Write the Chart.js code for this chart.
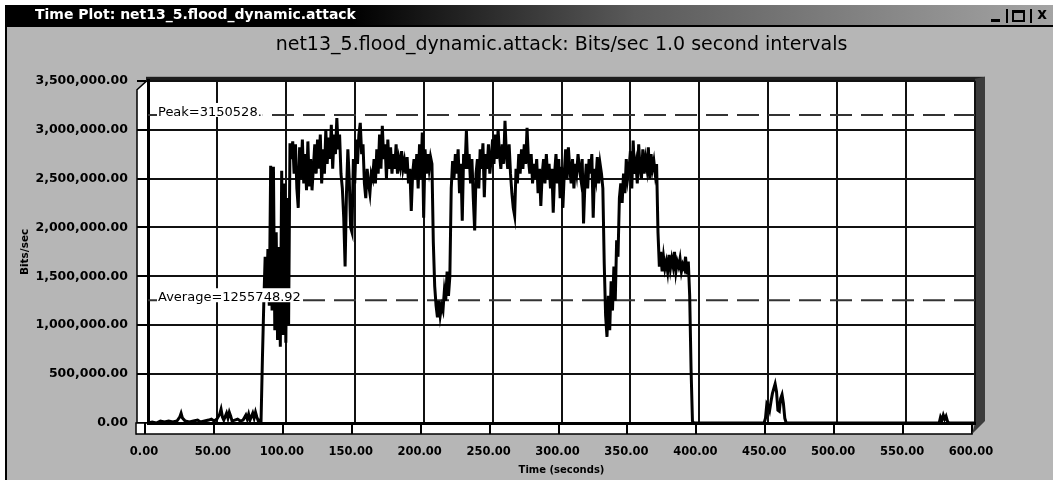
<!DOCTYPE html>
<html>
<head>
<meta charset="utf-8">
<script src="https://cdn.jsdelivr.net/npm/chart.js@4.4.1/dist/chart.umd.min.js"></script>
<style>
  html, body { margin: 0; padding: 0; background: #fff; }
</style>
</head>
<body>
<canvas id="plot" width="1053" height="480"></canvas>
<script>
const WINDOW_TITLE = 'Time Plot: net13_5.flood_dynamic.attack';
const CHART_TITLE = 'net13_5.flood_dynamic.attack: Bits/sec 1.0 second intervals';

// quiet period before the flood (seconds / Mbit per second)
const preSec  = [0, 3, 6, 9, 12, 15, 18, 21, 23, 24, 25, 27, 30, 33, 36, 38, 41, 44, 46, 48, 50,
                 52, 53, 54, 55, 57, 58, 59, 60, 61, 63, 65, 67, 69, 71, 72, 73, 74, 76, 77, 78, 79, 80, 81, 82];
const preMbps = [0.00, 0.01, 0.00, 0.02, 0.01, 0.02, 0.01, 0.02, 0.06, 0.10, 0.05, 0.02, 0.01, 0.02, 0.03, 0.01, 0.02, 0.03, 0.04, 0.02, 0.04,
                 0.09, 0.14, 0.06, 0.03, 0.10, 0.05, 0.11, 0.07, 0.02, 0.03, 0.04, 0.02, 0.03, 0.08, 0.04, 0.09, 0.03, 0.10, 0.05, 0.11, 0.06, 0.02, 0.03, 0.01];

// the attack, one sample per second starting at attackStartSec
const attackStartSec = 83;
const attackMbps = [
  0.65, 1.22, 1.70, 1.25, 1.78, 1.20, 2.63, 1.15, 2.62, 0.95,   // 83
  1.95, 0.85, 1.80, 0.78, 2.58, 0.90, 2.45, 0.82, 2.30, 1.00,   // 93
  2.86, 2.70, 2.88, 2.55, 2.85, 2.40, 2.20, 2.82, 2.50, 2.90,   // 103
  2.45, 2.75, 2.38, 2.88, 2.42, 2.70, 2.38, 2.62, 2.85, 2.55,   // 113
  2.90, 2.60, 2.95, 2.45, 2.80, 2.55, 3.00, 2.65, 2.92, 2.70,   // 123
  3.05, 2.60, 2.95, 2.75, 3.12, 2.80, 2.95, 2.55, 2.40, 2.10,   // 133
  1.60, 2.35, 2.80, 2.50, 2.00, 1.95, 2.70, 2.45, 2.90, 2.65,   // 143
  2.95, 3.07, 2.75, 2.85, 2.45, 2.30, 2.60, 2.45, 2.35, 2.55,   // 153
  2.50, 2.70, 2.45, 2.80, 2.55, 2.95, 2.60, 3.04, 2.70, 2.85,   // 163
  2.50, 2.90, 2.60, 2.82, 2.55, 2.75, 2.60, 2.85, 2.55, 2.70,   // 173
  2.62, 2.78, 2.60, 2.68, 2.55, 2.72, 2.45, 2.60, 2.17, 2.55,   // 183
  2.70, 2.50, 2.75, 2.40, 2.85, 2.50, 2.97, 2.10, 2.80, 2.55,   // 193
  2.75, 2.60, 2.72, 2.65, 1.85, 1.40, 1.20, 1.08, 1.25, 1.10,   // 203
  1.20, 1.15, 1.35, 1.25, 1.55, 1.30, 1.50, 2.40, 2.68, 2.50,   // 213
  2.75, 2.55, 2.80, 2.35, 2.65, 2.07, 2.75, 2.60, 2.99, 2.60,   // 223
  2.75, 2.45, 2.70, 2.30, 1.97, 2.55, 2.70, 2.40, 2.80, 2.60,   // 233
  2.86, 2.31, 2.75, 2.60, 2.85, 2.55, 2.70, 2.90, 2.65, 2.95,   // 243
  2.70, 3.00, 2.75, 2.60, 2.85, 2.65, 3.09, 2.75, 2.60, 2.85,   // 253
  2.55, 2.35, 2.20, 2.12, 2.60, 2.45, 2.75, 2.55, 2.80, 2.60,   // 263
  2.85, 2.65, 3.02, 2.70, 2.55, 2.75, 2.45, 2.65, 2.50, 2.70,   // 273
  2.35, 2.60, 2.22, 2.55, 2.70, 2.45, 2.75, 2.50, 2.65, 2.40,   // 283
  2.60, 2.15, 2.55, 2.75, 2.45, 2.70, 2.30, 2.62, 2.20, 2.55,   // 293
  2.80, 2.50, 2.82, 2.60, 2.45, 2.70, 2.40, 2.65, 2.55, 2.75,   // 303
  2.60, 2.50, 2.70, 2.04, 2.45, 2.65, 2.40, 2.70, 2.55, 2.75,   // 313
  2.10, 2.60, 2.50, 2.72, 2.45, 2.65, 2.55, 2.40, 1.63, 1.10,   // 323
  0.88, 1.30, 0.95, 1.45, 1.15, 1.60, 1.25, 1.87, 1.70, 2.30,   // 333
  2.45, 2.25, 2.55, 2.35, 2.70, 2.50, 2.60, 2.78, 2.40, 2.89,   // 343
  2.55, 2.65, 2.45, 2.85, 2.60, 2.50, 2.80, 2.55, 2.70, 2.60,   // 353
  2.82, 2.50, 2.75, 2.60, 2.68, 2.55, 2.65, 1.95, 1.60, 1.75,   // 363
  1.55, 1.70, 1.58, 1.65, 1.55, 1.72, 1.58, 1.68, 1.60, 1.75,   // 373
  1.55, 1.65, 1.60, 1.68, 1.55, 1.62, 1.58, 1.70, 1.52, 1.65,   // 383
  1.30, 0.55, 0.02                                              // 393
];

// after the flood
const postSec  = [396, 420, 447, 448, 449, 450, 451, 452, 453, 454, 455, 456, 457, 458, 459, 460, 461, 462, 463,
                  500, 574, 575, 576, 577, 578, 579, 580, 581, 600];
const postMbps = [0, 0, 0, 0.05, 0.20, 0.18, 0.13, 0.22, 0.30, 0.35, 0.40, 0.32, 0.13, 0.12, 0.25, 0.29, 0.20, 0.05, 0,
                  0, 0, 0.06, 0.03, 0.08, 0.04, 0.07, 0.02, 0, 0];

const PEAK_BPS = 3150528;
const AVERAGE_BPS = 1255748.92;

const xTickValues = [0, 50, 100, 150, 200, 250, 300, 350, 400, 450, 500, 550, 600];
const yTickValues = [0, 500000, 1000000, 1500000, 2000000, 2500000, 3000000, 3500000];

const W = 1053, H = 480;
const BAR_TOP = 5, BAR_H = 20;

let series = [];
preSec.forEach((s, i) => series.push({ x: s, y: preMbps[i] * 1e6 }));
attackMbps.forEach((v, i) => series.push({ x: attackStartSec + i, y: v * 1e6 }));
postSec.forEach((s, i) => series.push({ x: s, y: postMbps[i] * 1e6 }));

function refLine(v) {
    return [{ x: xTickValues[0], y: v }, { x: xTickValues[xTickValues.length - 1], y: v }];
}

const chromePlugin = {
    id: 'chrome',
    beforeDraw(chart) {
        const ctx = chart.ctx;
        const a = chart.chartArea;
        ctx.save();
        ctx.fillStyle = '#fff';
        ctx.fillRect(0, 0, W, H);
        ctx.fillStyle = '#b6b6b6';
        ctx.fillRect(7, BAR_TOP + BAR_H, W - 7, H - BAR_TOP - BAR_H);
        ctx.fillStyle = '#000';
        ctx.fillRect(5, BAR_TOP, 2, H - BAR_TOP);

        // title bar
        let g = ctx.createLinearGradient(7, 0, W, 0);
        g.addColorStop(0, '#000');
        g.addColorStop(0.33, '#000');
        g.addColorStop(0.6, '#5a5a5a');
        g.addColorStop(1, '#a4a4a4');
        ctx.fillStyle = g;
        ctx.fillRect(7, BAR_TOP, W - 7, BAR_H);
        ctx.fillStyle = '#000';
        ctx.fillRect(7, BAR_TOP + BAR_H, W - 7, 2);
        ctx.fillStyle = '#fff';
        ctx.font = 'bold 14px "DejaVu Sans"';
        ctx.textBaseline = 'middle';
        ctx.textAlign = 'left';
        ctx.fillText(WINDOW_TITLE, 35, BAR_TOP + BAR_H / 2);

        // min / max / close
        const by = BAR_TOP + 4;
        ctx.fillStyle = '#000';
        ctx.fillRect(991, by + 10, 9, 3);
        ctx.fillRect(1006, by, 2, 14);
        ctx.lineWidth = 2;
        ctx.strokeStyle = '#000';
        ctx.strokeRect(1013, by + 2, 11, 10);
        ctx.fillRect(1012, by + 1, 13, 3);
        ctx.fillRect(1030, by, 2, 14);
        ctx.font = 'bold 15px "DejaVu Sans"';
        ctx.textAlign = 'center';
        ctx.fillText('x', 1042, by + 6);

        // plot face
        ctx.fillStyle = '#fff';
        ctx.fillRect(a.left, a.top, a.right - a.left, a.bottom - a.top);

        // left wall
        ctx.beginPath();
        ctx.moveTo(137, a.top + 9);
        ctx.lineTo(a.left, a.top - 1);
        ctx.lineTo(a.left, a.bottom);
        ctx.lineTo(137, a.bottom + 10);
        ctx.closePath();
        ctx.fillStyle = '#fff';
        ctx.fill();
        ctx.lineWidth = 1.5;
        ctx.strokeStyle = '#000';
        ctx.stroke();
        const ys = chart.scales.y;
        ctx.lineWidth = 2;
        ys.ticks.forEach(t => {
            const py = Math.round(ys.getPixelForValue(t.value));
            ctx.beginPath();
            ctx.moveTo(137, py);
            ctx.lineTo(a.left, py);
            ctx.stroke();
        });

        // floor
        ctx.fillStyle = '#fff';
        ctx.fillRect(136, a.bottom, a.right - 139, 11);
        ctx.lineWidth = 1.5;
        ctx.strokeRect(136, a.bottom, a.right - 139, 11);
        const xs = chart.scales.x;
        ctx.lineWidth = 2;
        xs.ticks.forEach(t => {
            const px = Math.round(xs.getPixelForValue(t.value)) - 3;
            ctx.beginPath();
            ctx.moveTo(px, a.bottom);
            ctx.lineTo(px, a.bottom + 11);
            ctx.stroke();
        });

        // top rim and right side
        ctx.fillStyle = '#1e1e1e';
        ctx.fillRect(a.left - 2, a.top - 4, a.right - a.left + 12, 4);
        ctx.beginPath();
        ctx.moveTo(a.right, a.top - 2);
        ctx.lineTo(a.right + 10, a.top - 4);
        ctx.lineTo(a.right + 10, a.bottom - 2);
        ctx.lineTo(a.right - 3, a.bottom + 11);
        ctx.lineTo(a.right, a.bottom);
        ctx.closePath();
        ctx.fillStyle = '#3c3c3c';
        ctx.fill();
        ctx.restore();
    },
    afterDatasetsDraw(chart) {
        const ctx = chart.ctx;
        const a = chart.chartArea;
        const ys = chart.scales.y;
        ctx.save();
        ctx.font = '13px "DejaVu Sans"';
        ctx.textAlign = 'left';
        ctx.textBaseline = 'alphabetic';
        [['Peak=' + PEAK_BPS + '.', PEAK_BPS], ['Average=' + AVERAGE_BPS.toFixed(2), AVERAGE_BPS]].forEach(([txt, v]) => {
            const py = ys.getPixelForValue(v);
            const w = ctx.measureText(txt).width;
            const x0 = a.left + 10;
            ctx.fillStyle = '#fff';
            ctx.fillRect(x0 - 1, py - 12, w + 2, 14);
            ctx.fillStyle = '#000';
            ctx.fillText(txt, x0, py + 1);
        });
        ctx.restore();
    }
};

Chart.defaults.font.family = '"DejaVu Sans", sans-serif';
Chart.defaults.color = '#000';

const ctx = document.getElementById('plot').getContext('2d');
const chart = new Chart(ctx, {
    type: 'line',
    data: {
        datasets: [
            { label: 'Bits/sec', data: series, borderColor: '#000', borderWidth: 3, pointRadius: 0, tension: 0, fill: false },
            { label: 'Peak', data: refLine(PEAK_BPS), borderColor: '#333', borderWidth: 2, borderDash: [22, 9], pointRadius: 0 },
            { label: 'Average', data: refLine(AVERAGE_BPS), borderColor: '#333', borderWidth: 2, borderDash: [22, 9], pointRadius: 0 }
        ]
    },
    options: {
        responsive: false,
        devicePixelRatio: 1,
        animation: false,
        layout: { padding: { left: 12, right: 78, top: 27, bottom: 0 } },
        plugins: {
            legend: { display: false },
            tooltip: { enabled: false },
            title: {
                display: true,
                text: CHART_TITLE,
                fullSize: false,
                color: '#000',
                font: { size: 19, weight: 'normal' },
                padding: { top: 7, bottom: 24 }
            }
        },
        scales: {
            x: {
                type: 'linear',
                min: 0,
                max: 600,
                afterBuildTicks: s => { s.ticks = xTickValues.map(v => ({ value: v })); },
                afterFit: s => { s.height = 57; },
                ticks: {
                    callback: v => Number(v).toFixed(2),
                    font: { size: 11.5, weight: 'bold' },
                    color: '#000',
                    padding: 22,
                    labelOffset: -4,
                    maxRotation: 0,
                    autoSkip: false
                },
                grid: { color: '#111', lineWidth: 2, drawTicks: false },
                border: { color: '#000', width: 3 },
                title: { display: true, text: 'Time (seconds)', color: '#000', font: { size: 10, weight: 'bold' }, padding: { top: 0, bottom: 4 } }
            },
            y: {
                type: 'linear',
                min: 0,
                max: 3500000,
                afterBuildTicks: s => { s.ticks = yTickValues.map(v => ({ value: v })); },
                afterFit: s => { s.width = 136; },
                ticks: {
                    callback: v => Number(v).toLocaleString('en-US', { minimumFractionDigits: 2, maximumFractionDigits: 2 }),
                    font: { size: 12.5, weight: 'bold' },
                    color: '#000',
                    padding: 20
                },
                grid: { color: '#111', lineWidth: 2, drawTicks: false },
                border: { color: '#000', width: 3 },
                title: { display: true, text: 'Bits/sec', color: '#000', font: { size: 10.5, weight: 'bold' }, padding: { top: 7, bottom: 0 } }
            }
        }
    },
    plugins: [chromePlugin]
});
</script>
</body>
</html>
